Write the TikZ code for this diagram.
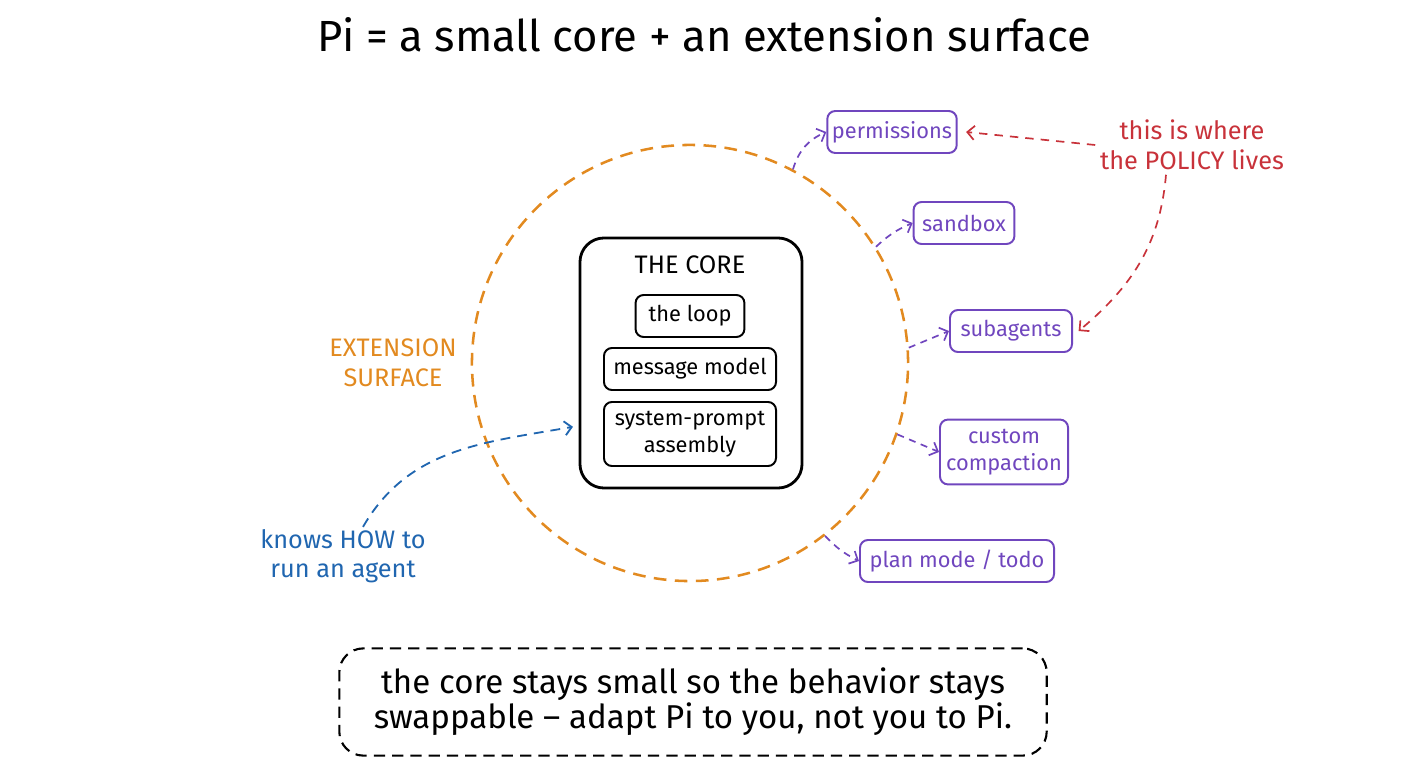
\documentclass[tikz,border=0pt]{standalone}
\usepackage{fontspec}
\setmainfont{Fira Sans}
\usetikzlibrary{arrows.meta,positioning,calc}

\definecolor{extorange}{RGB}{226,138,32}
\definecolor{extpurple}{RGB}{112,70,190}
\definecolor{policyred}{RGB}{200,50,58}
\definecolor{howblue}{RGB}{32,102,176}

\begin{document}
\begin{tikzpicture}[
            x=0.025cm, y=-0.025cm,
            font=\fontsize{15.5}{19}\selectfont,
            % anello esterno e nucleo
            extring/.style={circle, draw=extorange, line width=1.8pt, dash pattern=on 9pt off 6pt, minimum size=10.9cm, inner sep=0pt},
            corebox/.style={rectangle, rounded corners=0.6cm, draw=black, line width=2pt, minimum width=5.55cm, minimum height=6.25cm},
            part/.style={rectangle, rounded corners=0.2cm, draw=black, line width=1.4pt, align=center, minimum height=1.05cm},
            ext/.style={rectangle, rounded corners=0.2cm, draw=extpurple, text=extpurple, line width=1.4pt, align=center, minimum height=1.05cm},
            note/.style={align=center, font=\fontsize{18}{21}\selectfont},
            hook/.style={draw=extpurple, line width=1.2pt, dash pattern=on 5pt off 4pt, -{Straight Barb[length=5pt,width=10pt]}},
            policy/.style={draw=policyred, line width=1.2pt, dash pattern=on 6pt off 5pt, -{Straight Barb[length=5pt,width=10pt]}},
            how/.style={draw=howblue, line width=1.3pt, dash pattern=on 7pt off 5pt, -{Straight Barb[length=5pt,width=10pt]}},
            summary/.style={rectangle, rounded corners=0.6cm, draw=black, line width=1.5pt, dash pattern=on 8pt off 5pt, minimum width=17.68cm, minimum height=2.68cm, align=center, font=\fontsize{23.5}{25}\selectfont}
        ]
        \useasboundingbox (0,0) rectangle (1408,768);

        % Titolo
        \node (title) at (704,35) [font=\fontsize{31}{34}\selectfont] {Pi = a small core + an extension surface};

        % Superficie di estensione
        \node (surface) [extring] at (690,363) {};
        \node (extlbl) [note, text=extorange] at (393,363) {EXTENSION\\SURFACE};

        % Nucleo
        \node (core) [corebox] at (691,363) {};
        \node (corelbl) at (690,265) [font=\fontsize{18}{20}\selectfont] {THE CORE};
        \node (loop) [part, minimum width=2.72cm] at (690,316) {the loop};
        \node (msgmodel) [part, minimum width=4.3cm] at (690,369) {message model};
        \node (sysprompt) [part, minimum width=4.3cm, minimum height=1.6cm] at (690,434) {system-prompt\\assembly};

        % Estensioni
        \node (perm) [ext, minimum width=3.22cm] at (892,132) {permissions};
        \node (sandbox) [ext, minimum width=2.52cm] at (964,223) {sandbox};
        \node (subagents) [ext, minimum width=3.05cm] at (1011,331) {subagents};
        \node (compaction) [ext, minimum width=3.2cm, minimum height=1.62cm] at (1004,452) {custom\\compaction};
        \node (planmode) [ext, minimum width=4.85cm] at (957,561) {plan mode / todo};

        % Note
        \node (policylbl) [note, text=policyred] at (1192,145) {this is where\\the POLICY lives};
        \node (howlbl) [note, text=howblue] at (343,556) {knows HOW to\\run an agent};

        % Collegamenti
        \draw [hook] (surface.62) to[bend left=25] (perm.west);
        \draw [hook] (surface.32) to[bend left=10] (sandbox.west);
        \draw [hook] (surface.4) -- (subagents.west);
        \draw [hook] (surface.-19) -- (compaction.west);
        \draw [hook] (surface.-52) to[bend right=10] (planmode.west);

        \draw [policy] (policylbl.west) -- ([xshift=6pt]perm.east);
        \draw [policy] ([xshift=-0.65cm]policylbl.south) to[out=-95,in=40] ([xshift=4pt]subagents.east);

        \draw [how] ([xshift=0.5cm,yshift=-2pt]howlbl.north) to[out=60,in=190] ([xshift=-4pt,yshift=0.18cm]core.west |- sysprompt.west);

        % Sintesi
        \node (summary) [summary] at (693,702) {the core stays small so the behavior stays\\swappable -- adapt Pi to you, not you to Pi.};

    \end{tikzpicture}
\end{document}
